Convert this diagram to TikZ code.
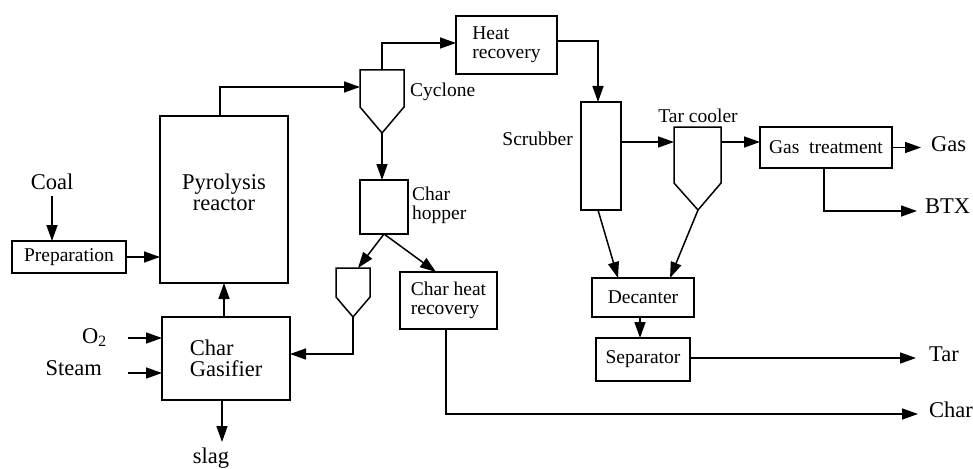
\documentclass[tikz,border=0pt]{standalone}
\usepackage{fontspec}
\setmainfont{Liberation Serif}
\usetikzlibrary{arrows.meta,calc}
\tikzset{
  box/.style={draw, line width=1.5pt, inner sep=0pt, outer sep=0pt},
  pipe/.style={line width=1.5pt},
  flow/.style={line width=1.5pt, -{Triangle[length=16pt,width=11pt]}},
  big/.style={font=\fontsize{22.5}{21}\selectfont, inner sep=0pt},
  small/.style={font=\fontsize{19.5}{19}\selectfont, inner sep=0pt},
}
\begin{document}
\begin{tikzpicture}[x=1pt,y=-1pt]
\useasboundingbox (0,0) rectangle (973,468);
% boxes
\node[box, minimum width=114pt, minimum height=32pt, small] (prep) at (69,257) {Preparation};
\node[box, minimum width=128pt, minimum height=167pt] (reactor) at (224,199.5) {};
\node[big, align=center] (reactortxt) at (224,192) {Pyrolysis\\reactor};
\node[box, minimum width=128pt, minimum height=83pt, big, align=left] (gasifier) at (226,358.5) {Char\\Gasifier};
\node[box, minimum width=101pt, minimum height=58pt, small, align=left] (heat) at (506.5,45) {Heat\\recovery};
\node[box, minimum width=48pt, minimum height=54pt] (hopper) at (384,207) {};
\node[box, minimum width=97pt, minimum height=57pt, small, align=left] (chr) at (448.5,300.5) {Char heat\\recovery};
\node[box, minimum width=40pt, minimum height=108pt] (scrubber) at (601,156) {};
\node[box, minimum width=132pt, minimum height=41pt, small] (gastreat) at (826,147.5) {Gas\ \ treatment};
\node[box, minimum width=102pt, minimum height=39pt, small] (decanter) at (643,297.5) {Decanter};
\node[box, minimum width=94pt, minimum height=43pt, small] (separator) at (643,359.5) {Separator};
% cyclone
\coordinate (cyctl) at (360,70); \coordinate (cyctr) at (404,70);
\coordinate (cycbl) at (360,107); \coordinate (cycbr) at (404,107);
\coordinate (cycbot) at (382,133); \coordinate (cyctop) at (382,70);
\coordinate (cycin) at (360,87);
\draw[pipe] (cyctl) -- (cycbl) -- (cycbot) -- (cycbr) -- (cyctr) -- cycle;
% small cyclone
\coordinate (scyctl) at (336,268); \coordinate (scyctr) at (370,268);
\coordinate (scycbl) at (336,297); \coordinate (scycbr) at (370,297);
\coordinate (scycbot) at (353,317); \coordinate (scycin) at (358,268);
\draw[pipe] (scyctl) -- (scycbl) -- (scycbot) -- (scycbr) -- (scyctr) -- cycle;
% tar cooler
\coordinate (tctl) at (674,127); \coordinate (tctr) at (721,127);
\coordinate (tcbl) at (674,183); \coordinate (tcbr) at (721,183);
\coordinate (tcbot) at (698,210);
\coordinate (tcin) at (674,142); \coordinate (tcout) at (721,142);
\draw[pipe] (tctl) -- (tcbl) -- (tcbot) -- (tcbr) -- (tctr) -- cycle;
% labels
\node[big, anchor=base] (coal) at (52,189) {Coal};
\node[big, anchor=base west] (o2) at (82,343) {O\textsubscript{2}};
\node[big, anchor=base east] (steam) at (102,375) {Steam};
\node[big, anchor=base] (slag) at (211,463) {slag};
\node[small, anchor=base west] (cyclonetxt) at (410,96) {Cyclone};
\node[small, anchor=west, align=left] (hoppertxt) at (412,205) {Char\\hopper};
\node[small, anchor=base east] (scrubbertxt) at (573,145) {Scrubber};
\node[small, anchor=base] (tarcoolertxt) at (698,122) {Tar cooler};
\node[big, anchor=base west] (gas) at (931,151) {Gas};
\node[big, anchor=base west] (btx) at (925,213) {BTX};
\node[big, anchor=base west] (tar) at (929,361) {Tar};
\node[big, anchor=base west] (char) at (929,417) {Char};
% free ends
\coordinate (o2in) at (128,338);
\coordinate (stin) at (128,373);
\coordinate (slagout) at (222,442);
\coordinate (gasend) at (921,150);
\coordinate (btxend) at (917,211);
\coordinate (tarend) at (916,358);
\coordinate (charend) at (918,414);
\coordinate (sepout) at ($(separator.east)+(0,-1.5)$);
% connectors
\draw[flow] (coal.south |- 0,196) -- (coal.south |- prep.north);
\draw[flow] (prep.east) -- (prep.east -| reactor.west);
\draw[flow] (reactor.south |- gasifier.north) -- (reactor.south);
\draw[flow] (o2in) -- (o2in -| gasifier.west);
\draw[flow] (stin) -- (stin -| gasifier.west);
\draw[flow] (slagout |- gasifier.south) -- (slagout);
\draw[flow] ([xshift=-4pt]reactor.north) |- (cycin);
\draw[flow] (cyctop) |- ([yshift=2pt]heat.west);
\draw[flow] (cycbot) -- (cycbot |- hopper.north);
\draw[flow] (hopper.south) -- (scycin);
\draw[flow] (hopper.south) -- ($(chr.north west)+(36,0)$);
\draw[flow] (scycbot) |- ($(gasifier.east)+(0,-4.5)$);
\draw[flow] ([yshift=4pt]heat.east) -| ($(scrubber.north)+(-3,0)$);
\draw[flow] (tcin -| scrubber.east) -- (tcin);
\draw[flow] (tcout) -- (tcout -| gastreat.west);
\draw[flow] (gastreat.east) -- (gastreat.east -| gasend);
\draw[flow] ($(gastreat.south west)+(64,0)$) |- (btxend);
\draw[flow] ($(scrubber.south)+(-3,0)$) -- ($(decanter.north west)+(26,0)$);
\draw[flow] (tcbot) -- ($(decanter.north west)+(78,0)$);
\draw[flow] ($(decanter.south)+(-3,0)$) -- ($(separator.north)+(-3,0)$);
\draw[flow] (sepout) -- (sepout -| tarend);
\draw[flow] ($(chr.south west)+(46,0)$) |- (charend);
\end{tikzpicture}
\end{document}
